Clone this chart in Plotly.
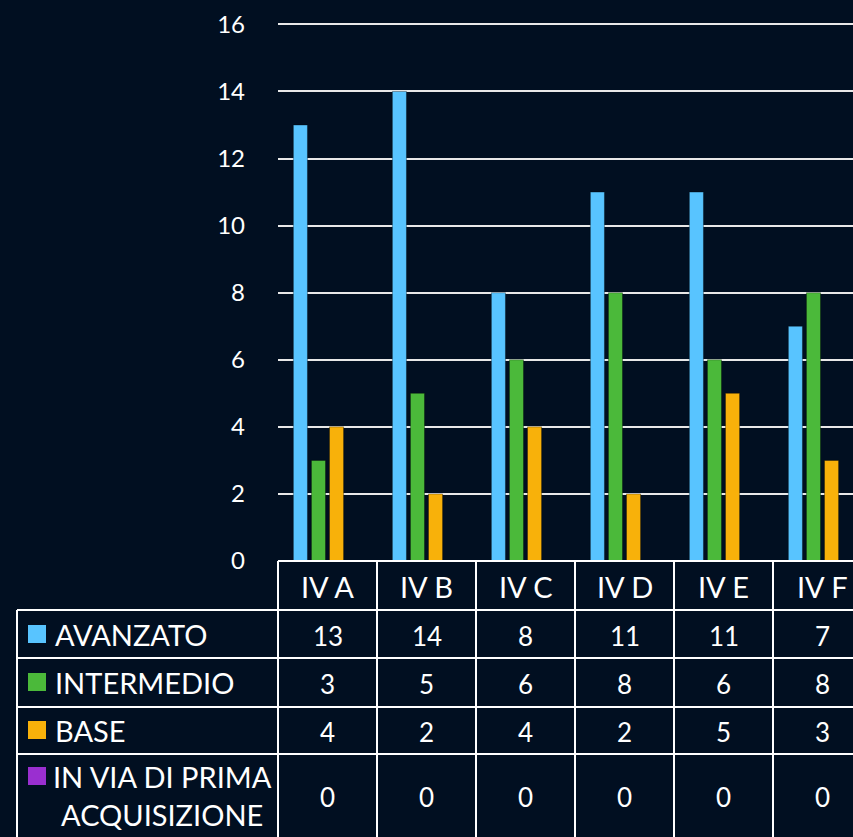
import plotly.graph_objects as go

categories = ["IV A", "IV B", "IV C", "IV D", "IV E", "IV F"]
series_names = ["AVANZATO", "INTERMEDIO", "BASE", "IN VIA DI PRIMA<br>ACQUISIZIONE"]
avanzato = [13, 14, 8, 11, 11, 7]
intermedio = [3, 5, 6, 8, 6, 8]
base = [4, 2, 4, 2, 5, 3]
prima_acq = [0, 0, 0, 0, 0, 0]
series_values = [avanzato, intermedio, base, prima_acq]
colors = ["#58c4ff", "#4bb93a", "#f8b10a", "#9a2fd0"]
y_ticks = [0, 2, 4, 6, 8, 10, 12, 14, 16]

W, H = 853, 837
L, R, T, B = 278, 853, 21, 561
Y_TOP = 16.1
BG = "#010f21"
FONT = "Lato"
TS = 29

def py(p):
    return (B - p) / (B - T)

def px(p):
    return (p - L) / (R - L)

cat_w = 99.0
x_hi = -0.5 + (R - L) / cat_w

fig = go.Figure()
for name, vals, col in zip(series_names, series_values, colors):
    fig.add_trace(go.Bar(x=categories, y=vals, name=name.replace("<br>", " "),
                         marker=dict(color=col, line=dict(color="rgba(0,0,0,0.35)", width=1)),
                         showlegend=False))

shapes = []
line = dict(color="#ffffff", width=2)
rows = [B, 610, 658, 707, 754, 840]
shapes.append(dict(type="line", xref="paper", yref="paper", x0=0, x1=1, y0=py(B), y1=py(B), line=line))
for r in rows[1:-1]:
    shapes.append(dict(type="line", xref="paper", yref="paper", x0=px(17), x1=1, y0=py(r), y1=py(r), line=line))
shapes.append(dict(type="line", xref="paper", yref="paper", x0=px(17), x1=px(17), y0=py(610), y1=py(840), line=line))
for i in range(len(categories) + 1):
    xp = px(L + i * cat_w)
    if xp <= 1.0:
        shapes.append(dict(type="line", xref="paper", yref="paper", x0=xp, x1=xp, y0=py(B), y1=py(840), line=line))

annotations = []
row_centers = [634, 682, 730, 795]
for i, c in enumerate(categories):
    annotations.append(dict(x=i, xref="x", y=py(586), yref="paper", text=c, showarrow=False,
                            font=dict(family=FONT, size=TS, color="#ffffff"), xanchor="center", yanchor="middle"))
for ri, (vals, yc) in enumerate(zip(series_values, row_centers)):
    for i, v in enumerate(vals):
        annotations.append(dict(x=i, xref="x", y=py(yc + 2), yref="paper", text=str(v), showarrow=False,
                                font=dict(family=FONT, size=26, color="#ffffff"), xanchor="center", yanchor="middle"))
for ri, (name, col, yc) in enumerate(zip(series_names, colors, row_centers)):
    if "<br>" in name:
        annotations.append(dict(x=px(162), xref="paper", y=py(yc), yref="paper", text=name, showarrow=False,
                                align="center", font=dict(family=FONT, size=TS, color="#ffffff"),
                                xanchor="center", yanchor="middle"))
        ky = 776
    else:
        annotations.append(dict(x=px(53), xref="paper", y=py(yc), yref="paper", text=name, showarrow=False,
                                font=dict(family=FONT, size=TS, color="#ffffff"), xanchor="left", yanchor="middle"))
        ky = yc
    shapes.append(dict(type="rect", xref="paper", yref="paper", x0=px(28), x1=px(46), y0=py(ky - 9), y1=py(ky + 9),
                       fillcolor=col, line=dict(width=0)))

fig.update_layout(
    width=W, height=H,
    margin=dict(l=L, r=W - R, t=T, b=H - B),
    paper_bgcolor=BG, plot_bgcolor=BG,
    barmode="group", bargap=0.27, bargroupgap=0.22,
    shapes=shapes, annotations=annotations,
    xaxis=dict(range=[-0.5, x_hi], showticklabels=False, showgrid=False, zeroline=False, showline=False, ticks=""),
    yaxis=dict(range=[0, Y_TOP], tickvals=y_ticks, showgrid=True, gridcolor="#e8e8e8", gridwidth=2,
               zeroline=False, showline=False, ticks="", ticklabelstandoff=32,
               tickfont=dict(family=FONT, size=24, color="#ffffff")),
)
fig.write_html("out.html", config={"displayModeBar": False},
               post_script="document.body.style.margin='0';document.body.style.background='%s';" % BG)
